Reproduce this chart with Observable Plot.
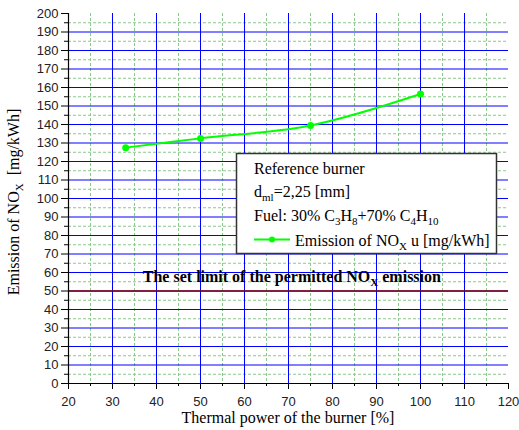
<!DOCTYPE html>
<html>
<head>
<meta charset="utf-8">
<script src="https://cdn.jsdelivr.net/npm/d3@7"></script>
<script src="https://cdn.jsdelivr.net/npm/@observablehq/plot@0.6"></script>
<style>
  html, body { margin: 0; padding: 0; background: #fff; }
  #chart svg { display: block; }
</style>
</head>
<body>
<div id="chart"></div>
<script>
// ---- data ----
const power = [33, 50, 75, 100];                 // Thermal power of the burner [%]
const emission = [127.5, 132.5, 139.5, 156.5];   // Emission of NOx [mg/kWh]
const limitValue = [50];                          // permitted NOx limit
const xTicks = [20, 30, 40, 50, 60, 70, 80, 90, 100, 110, 120];
const xMinorTicks = [25, 35, 45, 55, 65, 75, 85, 95, 105, 115];
const yTicks = [0, 10, 20, 30, 40, 50, 60, 70, 80, 90, 100, 110, 120, 130, 140, 150, 160, 170, 180, 190, 200];
const yMinorTicks = [5, 15, 25, 35, 45, 55, 65, 75, 85, 95, 105, 115, 125, 135, 145, 155, 165, 175, 185, 195];
const xGrid = [30, 40, 50, 60, 70, 80, 90, 100, 110];
const yGrid = [10, 20, 30, 40, 50, 60, 70, 80, 90, 100, 110, 120, 130, 140, 150, 160, 170, 180, 190];

const data = power.map((p, i) => ({power: p, nox: emission[i]}));

const serif = "'Liberation Serif', 'Times New Roman', serif";
const sans = "'Liberation Sans', Arial, sans-serif";
const blue = "#0000ff";
const minorGreen = "#8cc88c";
const lime = "#00ff00";

const plot = Plot.plot({
  width: 519,
  height: 430,
  marginLeft: 68,
  marginRight: 11,
  marginTop: 13,
  marginBottom: 47,
  style: {background: "#fff", fontFamily: sans, fontSize: "13px", color: "#222"},
  x: {domain: [20, 120]},
  y: {domain: [0, 200]},
  marks: [
    Plot.ruleX(xMinorTicks, {stroke: minorGreen, strokeDasharray: "3,2", strokeWidth: 1}),
    Plot.ruleY(yMinorTicks, {stroke: minorGreen, strokeDasharray: "3,2", strokeWidth: 1}),
    Plot.ruleX(xGrid, {stroke: blue, strokeWidth: 1}),
    Plot.ruleY(yGrid, {stroke: blue, strokeWidth: 1}),
    Plot.ruleY(limitValue, {stroke: "#800000", strokeWidth: 1.6}),
    Plot.line(data, {x: "power", y: "nox", curve: "catmull-rom", stroke: lime, strokeWidth: 2}),
    Plot.dot(data, {x: "power", y: "nox", r: 3.5, fill: lime, stroke: "none"}),
    Plot.axisX({ticks: xTicks, tickSize: 6, tickPadding: 7, label: null, fontSize: 13, stroke: "#000"}),
    Plot.axisX({ticks: xMinorTicks, tickSize: 3, text: null, label: null, stroke: "#000"}),
    Plot.axisY({ticks: yTicks, tickSize: 7, tickPadding: 3, label: null, fontSize: 13, stroke: "#000"}),
    Plot.axisY({ticks: yMinorTicks, tickSize: 4, text: null, label: null, stroke: "#000"}),
    Plot.ruleX([20], {stroke: "#000", strokeWidth: 1.2}),
    Plot.ruleY([0], {stroke: "#000", strokeWidth: 1.2})
  ]
});

document.getElementById("chart").appendChild(plot);

const svg = d3.select(plot);
const xs = plot.scale("x");
const ys = plot.scale("y");

// rich text helper: parts = [[text, "sub"?], ...]
function rich(g, x, y, parts, opts = {}) {
  const size = opts.size || 16;
  const t = g.append("text")
    .attr("x", x).attr("y", y)
    .attr("font-family", serif)
    .attr("font-size", size)
    .attr("fill", "#000")
    .attr("text-anchor", opts.anchor || "start");
  if (opts.weight) t.attr("font-weight", opts.weight);
  if (opts.transform) t.attr("transform", opts.transform);
  let shifted = 0;
  for (const [txt, kind] of parts) {
    const s = t.append("tspan").text(txt);
    if (kind === "sub") {
      const d = Math.round(size * 0.28);
      s.attr("font-size", Math.round(size * 0.68)).attr("dy", d - shifted);
      shifted = d;
    } else {
      if (shifted) s.attr("dy", -shifted);
      shifted = 0;
    }
  }
  return t;
}

const ann = svg.append("g");

// axis titles
rich(ann, (xs.range[0] + xs.range[1]) / 2, 423,
  [["Thermal power of the burner [%]"]], {anchor: "middle"});
rich(ann, 0, 0,
  [["Emission of NO"], ["X", "sub"], ["\u00a0\u00a0[mg/kWh]"]],
  {anchor: "middle", transform: `translate(19,${(ys.range[0] + ys.range[1]) / 2 + 4}) rotate(-90)`});

// limit label
rich(ann, xs.apply(37), ys.apply(limitValue[0]) - 9,
  [["The set limit of the permitted NO"], ["X", "sub"], [" emission"]], {weight: "bold"});

// legend box
const lg = svg.append("g");
lg.append("rect")
  .attr("x", 236.5).attr("y", 153.5).attr("width", 260).attr("height", 100)
  .attr("fill", "#fff").attr("stroke", "#333").attr("stroke-width", 1.5);
rich(lg, 254, 174, [["Reference burner"]]);
rich(lg, 254, 197, [["d"], ["ml", "sub"], ["=2,25 [mm]"]]);
rich(lg, 254, 221, [["Fuel: 30% C"], ["3", "sub"], ["H"], ["8", "sub"], ["+70% C"], ["4", "sub"], ["H"], ["10", "sub"]]);
lg.append("line").attr("x1", 254).attr("x2", 290).attr("y1", 239.5).attr("y2", 239.5)
  .attr("stroke", lime).attr("stroke-width", 2);
lg.append("circle").attr("cx", 272).attr("cy", 239.5).attr("r", 3).attr("fill", lime);
rich(lg, 295, 246, [["Emission of NO"], ["X", "sub"], [" u [mg/kWh]"]]);
</script>
</body>
</html>
